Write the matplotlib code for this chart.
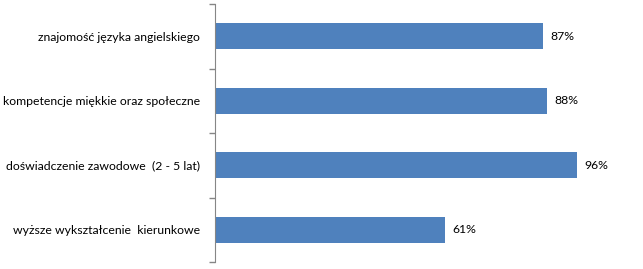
import matplotlib.pyplot as plt
import numpy as np

categories = ['znajomość języka angielskiego',
              'kompetencje miękkie oraz społeczne',
              'doświadczenie zawodowe  (2 - 5 lat)',
              'wyższe wykształcenie  kierunkowe']
values = [0.87, 0.88, 0.96, 0.61]
labels = ['87%', '88%', '96%', '61%']

plt.rcParams['font.family'] = ['Lato', 'DejaVu Sans']

W, H = 643, 269
fig = plt.figure(figsize=(W / 100, H / 100), dpi=100)
ax = fig.add_axes([215 / W, 7 / H, 377 / W, 258 / H])

y_pos = np.arange(len(categories))
bars = ax.barh(y_pos, values, height=0.4, color='#4F81BD')

for rect, text in zip(bars, labels):
    ax.text(rect.get_width() + 0.02, rect.get_y() + rect.get_height() / 2, text,
            ha='left', va='center', fontsize=8.8, color='black')

ax.set_xlim(0, 1)
ax.set_ylim(len(categories) - 0.5, -0.5)
ax.set_yticks(y_pos)
ax.set_yticklabels(categories, fontsize=8.8)
ax.set_yticks(np.arange(-0.5, len(categories)), minor=True)
ax.tick_params(axis='y', which='major', length=0, pad=11)
ax.tick_params(axis='y', which='minor', length=4, color='#868686', width=1)
ax.set_xticks([])

for side in ['top', 'right', 'bottom']:
    ax.spines[side].set_visible(False)
ax.spines['left'].set_color('#868686')

fig.savefig('out.png', dpi=100)
